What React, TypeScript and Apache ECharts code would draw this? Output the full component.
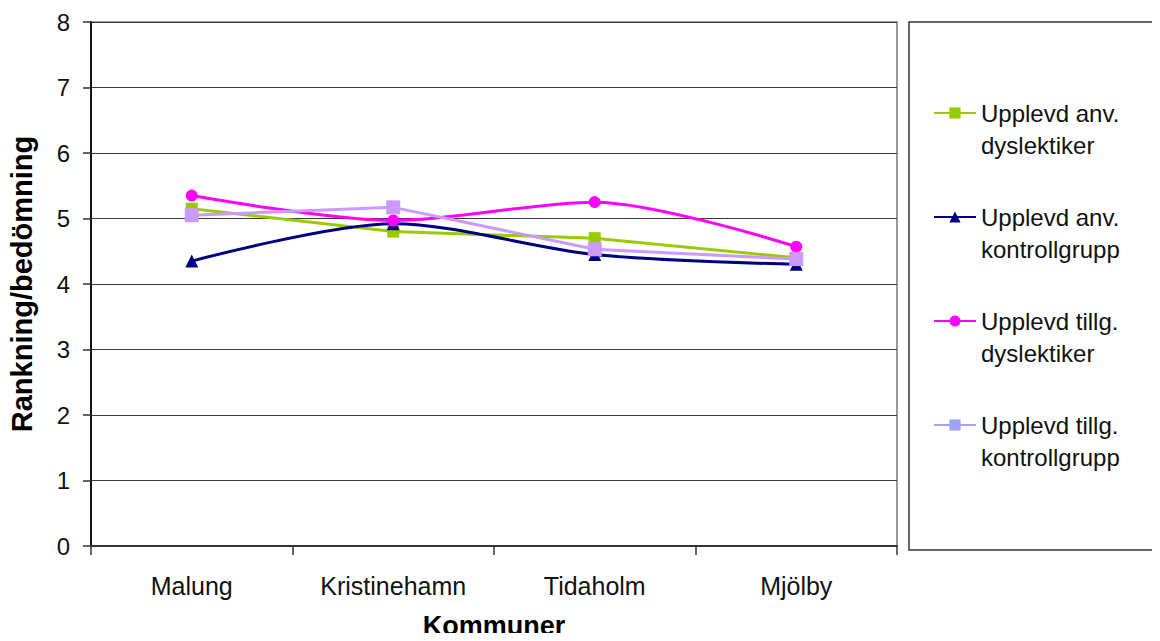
import React, { useEffect, useRef } from "react";
import * as echarts from "echarts";

const kommuner = ["Malung", "Kristinehamn", "Tidaholm", "Mjölby"];
const anvDyslektiker = [5.15, 4.8, 4.7, 4.4];
const anvKontroll = [4.35, 4.92, 4.45, 4.3];
const tillgDyslektiker = [5.35, 4.97, 5.25, 4.57];
const tillgKontroll = [5.05, 5.17, 4.53, 4.38];

const seriesNames = [
  "Upplevd anv.\ndyslektiker",
  "Upplevd anv.\nkontrollgrupp",
  "Upplevd tillg.\ndyslektiker",
  "Upplevd tillg.\nkontrollgrupp",
];

const FONT = "'Liberation Sans', Arial, sans-serif";

export default function App() {
  const ref = useRef<HTMLDivElement>(null);

  useEffect(() => {
    if (!ref.current) return;
    const chart = echarts.init(ref.current, undefined, { renderer: "svg" });

    const mkSeries = (
      name: string,
      data: number[],
      color: string,
      symbol: string,
      symbolSize: number,
      smooth: number | boolean
    ) => ({
      name,
      type: "line",
      data,
      smooth,
      symbol,
      symbolSize,
      showAllSymbol: true,
      lineStyle: { color, width: 3 },
      itemStyle: { color },
      emphasis: { disabled: true },
    });

    chart.setOption({
      animation: false,
      backgroundColor: "#ffffff",
      textStyle: { fontFamily: FONT },
      grid: {
        left: 91,
        right: 263,
        top: 22,
        bottom: 95,
        outerBoundsMode: "none",
        show: true,
        borderColor: "#9a9a9a",
        borderWidth: 2,
        backgroundColor: "#ffffff",
      },
      xAxis: {
        type: "category",
        data: kommuner,
        boundaryGap: true,
        name: "Kommuner",
        nameLocation: "middle",
        nameGap: 66,
        nameTextStyle: { fontFamily: FONT, fontSize: 27, fontWeight: "bold", color: "#000" },
        axisLine: { lineStyle: { color: "#333", width: 2 } },
        axisTick: { show: true, length: 9, lineStyle: { color: "#333", width: 1.5 } },
        axisLabel: { fontFamily: FONT, fontSize: 25, color: "#111", margin: 27 },
        splitLine: { show: false },
      },
      yAxis: {
        type: "value",
        min: 0,
        max: 8,
        interval: 1,
        name: "Rankning/bedömning",
        nameLocation: "middle",
        nameGap: 55,
        nameTextStyle: { fontFamily: FONT, fontSize: 29, fontWeight: "bold", color: "#000" },
        axisLine: { show: true, lineStyle: { color: "#1a1010", width: 2 } },
        axisTick: { show: true, length: 8, lineStyle: { color: "#333", width: 1.5 } },
        axisLabel: { fontFamily: FONT, fontSize: 24, color: "#111", margin: 21 },
        splitLine: { show: true, lineStyle: { color: "#3a3a30", width: 1.2 } },
      },
      legend: {
        orient: "vertical",
        left: 928,
        top: 60,
        itemWidth: 42,
        itemHeight: 14,
        itemGap: 8,
        selectedMode: false,
        formatter: (name: string) => "\n" + name,
        textStyle: { fontFamily: FONT, fontSize: 24, color: "#111", lineHeight: 32 },
        data: [
          { name: seriesNames[0] },
          { name: seriesNames[1] },
          { name: seriesNames[2] },
          {
            name: seriesNames[3],
            itemStyle: { color: "#a3a3f5" },
            lineStyle: { color: "#a3a3f5" },
          },
        ],
      },
      graphic: [
        {
          type: "rect",
          shape: { x: 909, y: 22, width: 260, height: 528 },
          style: { fill: "none", stroke: "#333", lineWidth: 1.5 },
          silent: true,
        },
      ],
      series: [
        mkSeries(seriesNames[0], anvDyslektiker, "#99cc00", "rect", 12, false),
        mkSeries(seriesNames[1], anvKontroll, "#000080", "triangle", 13, 0.3),
        mkSeries(seriesNames[2], tillgDyslektiker, "#ff00ff", "circle", 12, 0.3),
        mkSeries(seriesNames[3], tillgKontroll, "#cc99ff", "rect", 14, false),
      ],
    });

    return () => chart.dispose();
  }, []);

  return <div ref={ref} style={{ width: 1160, height: 641, margin: -8 }} />;
}
